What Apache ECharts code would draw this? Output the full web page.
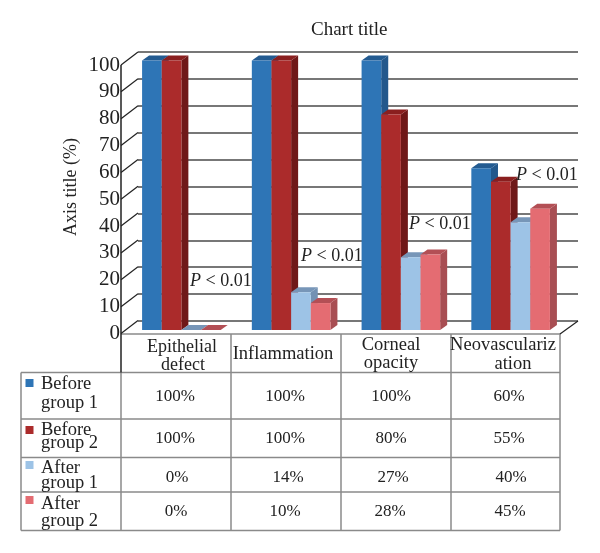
<!DOCTYPE html>
<html>
<head>
<meta charset="utf-8">
<style>html,body{margin:0;padding:0;background:#fff}#c{width:600px;height:553px}</style>
<script src="https://cdn.jsdelivr.net/npm/echarts@6/dist/echarts.min.js"></script>
</head>
<body>
<div id="c"></div>
<script>
const categories = ['Epithelial defect', 'Inflammation', 'Corneal opacity', 'Neovascularization'];
const headerLines = [['Epithelial', 'defect'], ['Inflammation'], ['Corneal', 'opacity'], ['Neovasculariz', 'ation']];
const seriesNames = ['Before group 1', 'Before group 2', 'After group 1', 'After group 2'];
const beforeGroup1 = [100, 100, 100, 60];
const beforeGroup2 = [100, 100, 80, 55];
const afterGroup1 = [0, 14, 27, 40];
const afterGroup2 = [0, 10, 28, 45];
const yTicks = [0, 10, 20, 30, 40, 50, 60, 70, 80, 90, 100];
const pLabel = '< 0.01';

const seriesValues = [beforeGroup1, beforeGroup2, afterGroup1, afterGroup2];
const faceColors = [
  {front: '#2e75b6', side: '#23588c', top: '#235b91'},
  {front: '#ab2b2b', side: '#6f1818', top: '#8a1f1f'},
  {front: '#9dc3e6', side: '#7391b3', top: '#7796b8'},
  {front: '#e46c72', side: '#a84e53', top: '#b34f55'}
];
const SERIF = '"Liberation Serif", serif';
const TEXT = '#222';
const depthX = 7, depthY = 5;
const wallX = 17, wallY = -13;
const textDrop = 1.5;

function barRender(idx) {
  return function (params, api) {
    const c = faceColors[idx];
    const base = api.coord([api.value(0), 0]);
    const top = api.coord([api.value(0), api.value(1)]);
    const w = api.size([1, 0])[0] * 0.179;
    const x0 = base[0] + (idx - 2) * w, x1 = x0 + w;
    const y0 = base[1], y1 = top[1];
    const poly = (pts, fill) => ({type: 'polygon', shape: {points: pts}, style: {fill: fill}});
    return {type: 'group', children: [
      poly([[x1, y1], [x1 + depthX, y1 - depthY], [x1 + depthX, y0 - depthY], [x1, y0]], c.side),
      poly([[x0, y1], [x0 + depthX, y1 - depthY], [x1 + depthX, y1 - depthY], [x1, y1]], c.top),
      {type: 'rect', shape: {x: x0, y: y1, width: w, height: y0 - y1}, style: {fill: c.front}}
    ]};
  };
}

const barSeries = seriesNames.map((name, i) => ({
  name: name,
  type: 'custom',
  xAxisIndex: 2,
  yAxisIndex: 2,
  clip: false,
  z: 5 + i,
  renderItem: barRender(i),
  encode: {x: 0, y: 1},
  data: seriesValues[i].map((v, k) => [k, v])
}));

const wallSeries = {
  type: 'custom',
  xAxisIndex: 0,
  yAxisIndex: 0,
  clip: false,
  z: 3,
  silent: true,
  renderItem: function (params, api) {
    const p = api.coord([0, api.value(0)]);
    const x = p[0] - api.size([1, 0])[0] / 2;
    return {type: 'line', shape: {x1: x, y1: p[1], x2: x + wallX, y2: p[1] + wallY},
      style: {stroke: '#222', lineWidth: 1.2}};
  },
  encode: {y: 0},
  data: yTicks.map(v => [v])
};

const gLine = (x1, y1, x2, y2, stroke, lw) => ({type: 'line', z: 2,
  shape: {x1, y1, x2, y2}, style: {stroke: stroke, lineWidth: lw}});
const gText = (x, y, text, align, size) => ({type: 'text', z: 20, x: x, y: y + textDrop,
  style: {text: text, font: (size || 17) + 'px ' + SERIF, fill: TEXT, align: align || 'center', verticalAlign: 'middle'}});

const colX = [21, 121, 231, 341, 451, 560];
const rowY = [334, 372.5, 419, 457.5, 492, 530.5];
const gridGrey = '#8a8a8a';
const graphics = [];
rowY.forEach((y, i) => graphics.push(gLine(i === 0 ? colX[1] : colX[0], y, colX[5], y, gridGrey, 1.5)));
colX.forEach((x, i) => { if (i !== 1) graphics.push(gLine(x, i === 0 ? rowY[1] : rowY[0], x, rowY[5], gridGrey, 1.5)); });
graphics.push(gLine(colX[1], rowY[1], colX[1], rowY[5], gridGrey, 1.5));
graphics.push(gLine(121, 65, 121, 372.5, '#222', 1.5));
graphics.push(gLine(560, 334, 578, 321, '#222', 1.2));

const headerPos = [
  [[182, 346], [183, 364]],
  [[283, 353]],
  [[391, 344], [391, 362]],
  [[503, 344], [513, 363]]
];
const headerSize = [18, 18.5, 18.5, 18.5];
headerLines.forEach((lines, c) => lines.forEach((t, l) => graphics.push(gText(headerPos[c][l][0], headerPos[c][l][1], t, 'center', headerSize[c]))));

const legendWords = [['Before', 'group 1'], ['Before', 'group 2'], ['After', 'group 1'], ['After', 'group 2']];
const legendY = [[383, 402], [428.5, 442], [467, 482], [502.5, 520]];
const swatchY = [383, 430, 465, 500];
legendWords.forEach((words, r) => {
  graphics.push({type: 'rect', z: 20, shape: {x: 25.5, y: swatchY[r] - 4, width: 8, height: 8}, style: {fill: faceColors[r].front}});
  words.forEach((t, l) => graphics.push(gText(41, legendY[r][l], t, 'left', 18.5)));
});

const cellX = [[175, 285, 391, 509], [175, 285, 391, 509], [177, 288, 393, 511], [176, 285, 390, 510]];
const cellY = [395, 437, 476, 510];
seriesValues.forEach((vals, r) => vals.forEach((v, c) => graphics.push(gText(cellX[r][c], cellY[r], v + '%'))));

const pPos = [[190, 280], [301, 255], [409, 223], [516, 174]];
pPos.forEach(p => graphics.push({type: 'text', z: 20, x: p[0], y: p[1] + textDrop, style: {
  text: '{i|P} ' + pLabel,
  font: '18px ' + SERIF, fill: TEXT, verticalAlign: 'middle',
  rich: {i: {font: 'italic 18px ' + SERIF, fill: TEXT}}
}}));

graphics.push({type: 'text', z: 20, x: 71, y: 187, rotation: Math.PI / 2, style: {
  text: 'Axis title (%)', font: '18px ' + SERIF, fill: TEXT, align: 'center', verticalAlign: 'middle'}});

const hiddenX = (g) => ({type: 'category', gridIndex: g, data: categories, show: false});
const chart = echarts.init(document.getElementById('c'), null, {renderer: 'canvas'});
chart.setOption({
  animation: false,
  backgroundColor: '#fff',
  title: {text: 'Chart title', left: 306, top: 16, textStyle: {fontFamily: SERIF, fontSize: 19, fontWeight: 'normal', color: TEXT}},
  grid: [
    {left: 121, top: 65, width: 439, height: 268.5},
    {left: 138, top: 52, width: 440, height: 269},
    {left: 126.5, top: 60.6, width: 439, height: 269.4}
  ],
  xAxis: [hiddenX(0), hiddenX(1), hiddenX(2)],
  yAxis: [
    {type: 'value', gridIndex: 0, min: 0, max: 100, interval: 10,
      axisLine: {show: false}, axisTick: {show: false}, splitLine: {show: false},
      axisLabel: {margin: 1, padding: [3, 0, 0, 0], fontFamily: SERIF, fontSize: 21, color: TEXT}},
    {type: 'value', gridIndex: 1, min: 0, max: 100, interval: 10,
      axisLine: {show: false}, axisTick: {show: false}, axisLabel: {show: false},
      splitLine: {show: true, lineStyle: {color: '#4a4a4a', width: 1.5}}},
    {type: 'value', gridIndex: 2, min: 0, max: 100, interval: 10, show: false, splitLine: {show: false}}
  ],
  graphic: {elements: graphics},
  series: [wallSeries].concat(barSeries)
});
</script>
</body>
</html>
